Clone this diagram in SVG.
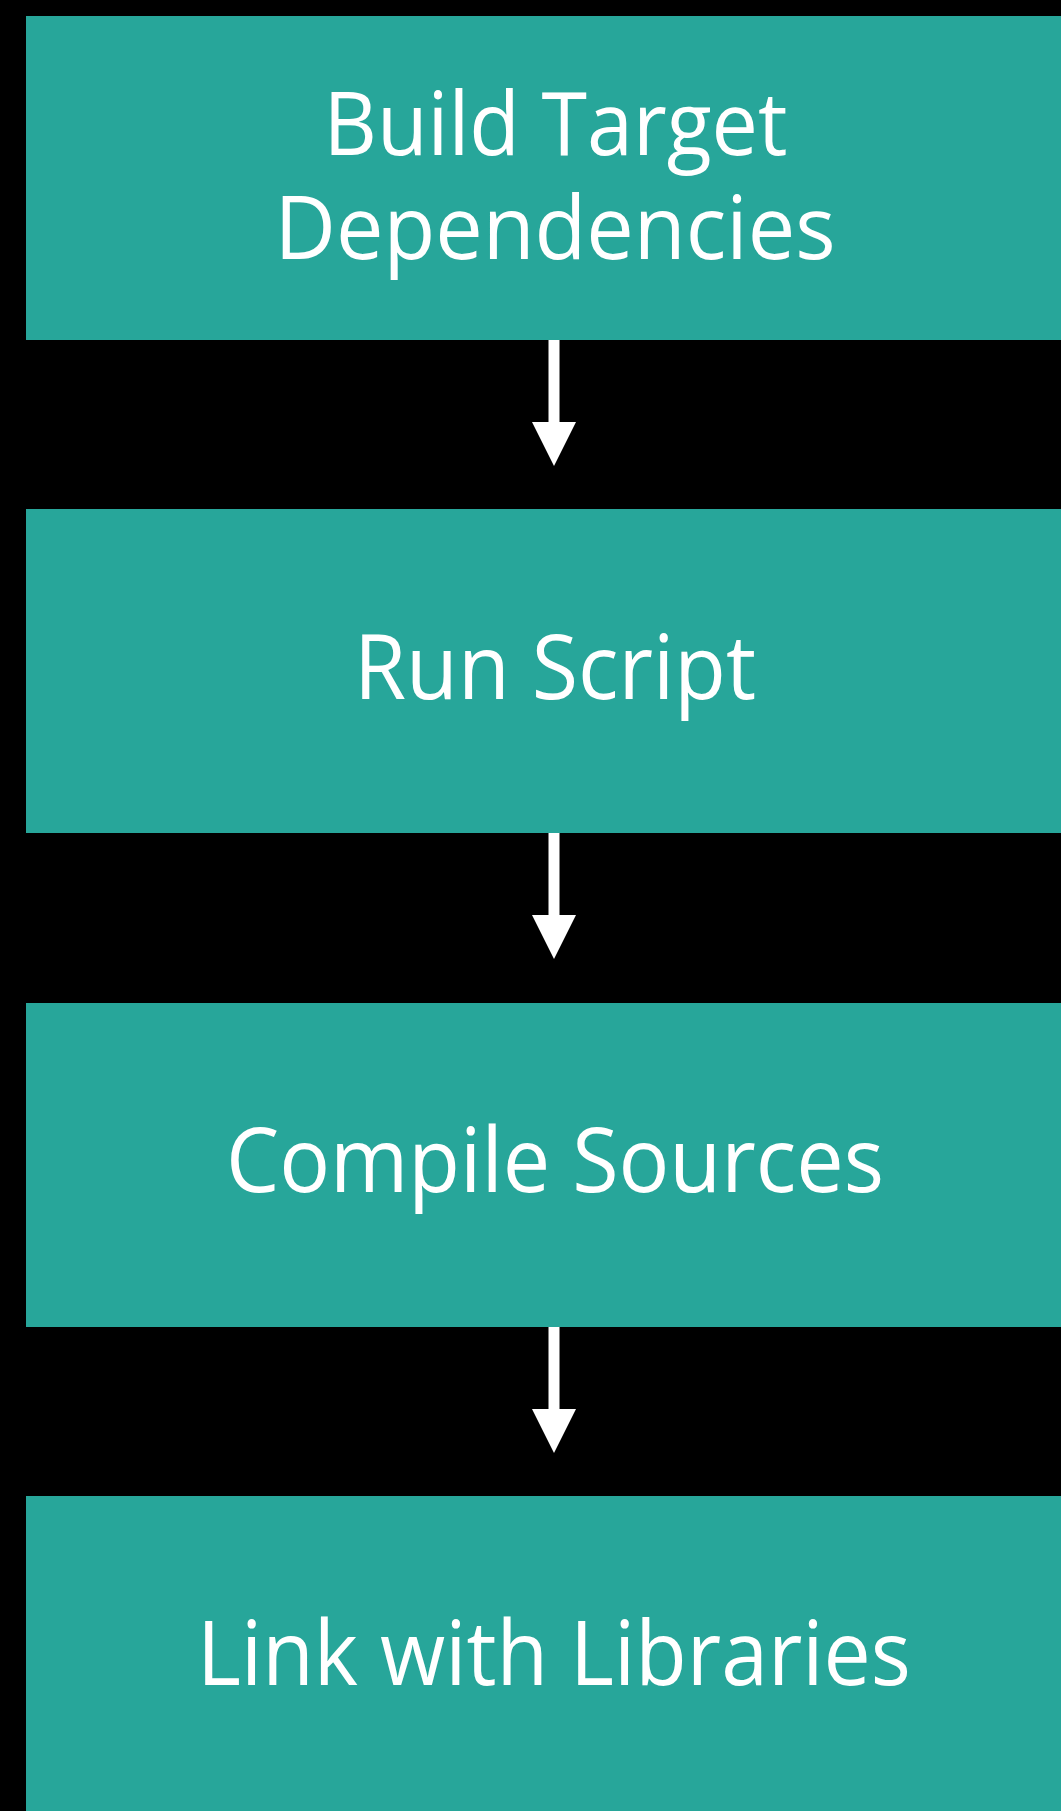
<svg xmlns="http://www.w3.org/2000/svg" width="1061" height="1811" viewBox="0 0 1061 1811">
  <style>
    .box { fill: #27a69a; }
    .label { fill: #ffffff; font-family: "Open Sans", "Noto Sans", "Liberation Sans", sans-serif; font-size: 90px; text-anchor: middle; }
    .label.two { font-size: 88px; }
    .conn { stroke: #ffffff; stroke-width: 11; fill: none; }
  </style>
  <defs>
    <marker id="head" markerUnits="userSpaceOnUse" viewBox="0 0 44 44" markerWidth="44" markerHeight="44" refX="22" refY="22" orient="auto">
      <path d="M0,0 L44,22 L0,44 Z" fill="#ffffff"/>
    </marker>
  </defs>
  <rect x="0" y="0" width="1061" height="1811" fill="#000000"/>
  <g id="node-build">
    <rect class="box" x="26" y="16" width="1100" height="324"/>
    <text class="label two" x="555.5" y="154.5" textLength="464" lengthAdjust="spacingAndGlyphs">Build Target</text>
    <text class="label two" x="555" y="258.5" textLength="561" lengthAdjust="spacingAndGlyphs">Dependencies</text>
  </g>
  <g id="node-run">
    <rect class="box" x="26" y="509" width="1100" height="324"/>
    <text class="label" x="555" y="698.5" textLength="402" lengthAdjust="spacingAndGlyphs">Run Script</text>
  </g>
  <g id="node-compile">
    <rect class="box" x="26" y="1003" width="1100" height="324"/>
    <text class="label" x="555" y="1192" textLength="658" lengthAdjust="spacingAndGlyphs">Compile Sources</text>
  </g>
  <g id="node-link">
    <rect class="box" x="26" y="1496" width="1100" height="324"/>
    <text class="label" x="554" y="1685" textLength="714" lengthAdjust="spacingAndGlyphs">Link with Libraries</text>
  </g>
  <g id="connectors">
    <line class="conn" x1="554" y1="340" x2="554" y2="444" marker-end="url(#head)"/>
    <line class="conn" x1="554" y1="833" x2="554" y2="937" marker-end="url(#head)"/>
    <line class="conn" x1="554" y1="1327" x2="554" y2="1431" marker-end="url(#head)"/>
  </g>
</svg>
